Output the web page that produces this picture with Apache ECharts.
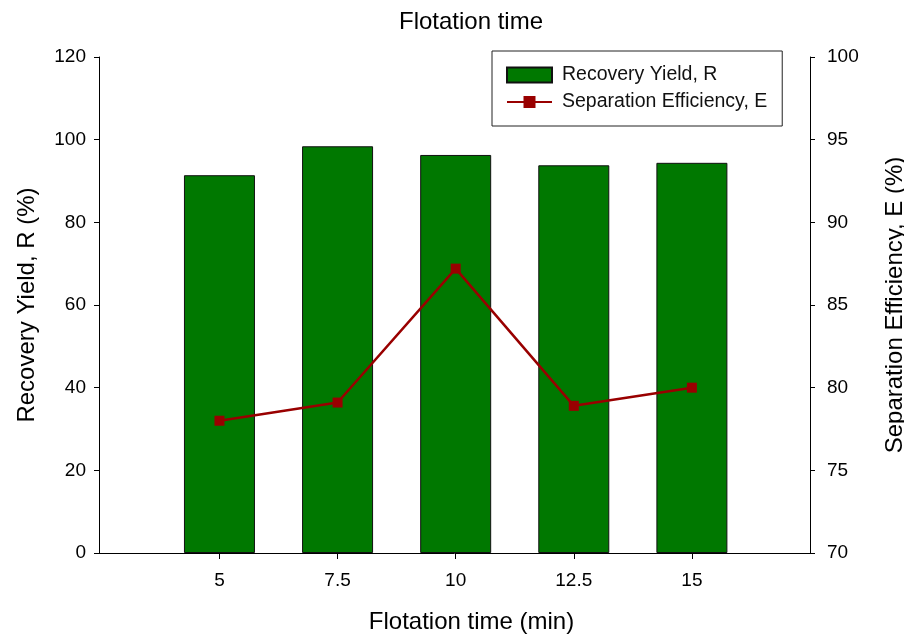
<!DOCTYPE html>
<html>
<head>
<meta charset="utf-8">
<script src="https://cdn.jsdelivr.net/npm/echarts@6/dist/echarts.min.js"></script>
<style>
html,body{margin:0;padding:0;background:#fff;overflow:hidden;}
#chart{width:904px;height:636px;}
</style>
</head>
<body>
<div id="chart"></div>
<script>
const flotationTimes = [5, 7.5, 10, 12.5, 15];
const recoveryYield = [91.4, 98.4, 96.3, 93.8, 94.4];
const separationEfficiency = [78.0, 79.1, 87.2, 78.9, 80.0];

const font = 'Liberation Sans, Arial, sans-serif';
const chart = echarts.init(document.getElementById('chart'));
chart.setOption({
  animation: false,
  backgroundColor: '#ffffff',
  title: {
    text: 'Flotation time',
    left: 471,
    textAlign: 'center',
    top: 10,
    padding: 0,
    textStyle: { fontFamily: font, fontSize: 24, fontWeight: 'normal', color: '#000' }
  },
  legend: {
    orient: 'vertical',
    left: 492,
    top: 51,
    padding: [14, 15, 14, 14],
    itemGap: 7,
    itemWidth: 45,
    itemHeight: 15,
    borderColor: '#222',
    borderWidth: 1,
    textStyle: { fontFamily: font, fontSize: 19.5, color: '#111', padding: [0, 0, 0, 5] },
    data: [
      { name: 'Recovery Yield, R', icon: 'rect' },
      { name: 'Separation Efficiency, E' }
    ]
  },
  grid: { left: 99, right: 94, top: 57, bottom: 83, outerBoundsMode: 'none', containLabel: false },
  xAxis: {
    type: 'value',
    min: 2.45,
    max: 17.5,
    name: 'Flotation time (min)',
    nameLocation: 'middle',
    nameGap: 57,
    nameTextStyle: { fontFamily: font, fontSize: 24, color: '#000', padding: [0, 0, 0, 34] },
    axisLine: { lineStyle: { color: '#000', width: 1 } },
    axisTick: { customValues: flotationTimes, length: 6, lineStyle: { color: '#000' } },
    axisLabel: { customValues: flotationTimes, fontFamily: font, fontSize: 19, color: '#000', margin: 18 },
    splitLine: { show: false }
  },
  yAxis: [
    {
      type: 'value',
      min: 0,
      max: 120,
      interval: 20,
      position: 'left',
      name: 'Recovery Yield, R (%)',
      nameLocation: 'middle',
      nameRotate: 90,
      nameGap: 60,
      nameTextStyle: { fontFamily: font, fontSize: 24, color: '#000' },
      axisLine: { show: true, lineStyle: { color: '#000', width: 1 } },
      axisTick: { show: true, length: 5, lineStyle: { color: '#000' } },
      axisLabel: { fontFamily: font, fontSize: 19, color: '#000', margin: 13 },
      splitLine: { show: false }
    },
    {
      type: 'value',
      min: 70,
      max: 100,
      interval: 5,
      position: 'right',
      name: 'Separation Efficiency, E (%)',
      nameLocation: 'middle',
      nameRotate: 90,
      nameGap: 73,
      nameTextStyle: { fontFamily: font, fontSize: 24, color: '#000' },
      axisLine: { show: true, lineStyle: { color: '#000', width: 1 } },
      axisTick: { show: true, length: 5, lineStyle: { color: '#000' } },
      axisLabel: { fontFamily: font, fontSize: 19, color: '#000', margin: 17 },
      splitLine: { show: false }
    }
  ],
  series: [
    {
      name: 'Recovery Yield, R',
      type: 'bar',
      xAxisIndex: 0,
      yAxisIndex: 0,
      barWidth: 71,
      itemStyle: { color: '#007800', borderColor: '#111', borderWidth: 1 },
      data: flotationTimes.map((t, i) => [t, recoveryYield[i]])
    },
    {
      name: 'Separation Efficiency, E',
      type: 'line',
      xAxisIndex: 0,
      yAxisIndex: 1,
      symbol: 'rect',
      symbolSize: 10,
      lineStyle: { color: '#990000', width: 2.5 },
      itemStyle: { color: '#990000' },
      data: flotationTimes.map((t, i) => [t, separationEfficiency[i]])
    }
  ]
});
</script>
</body>
</html>
